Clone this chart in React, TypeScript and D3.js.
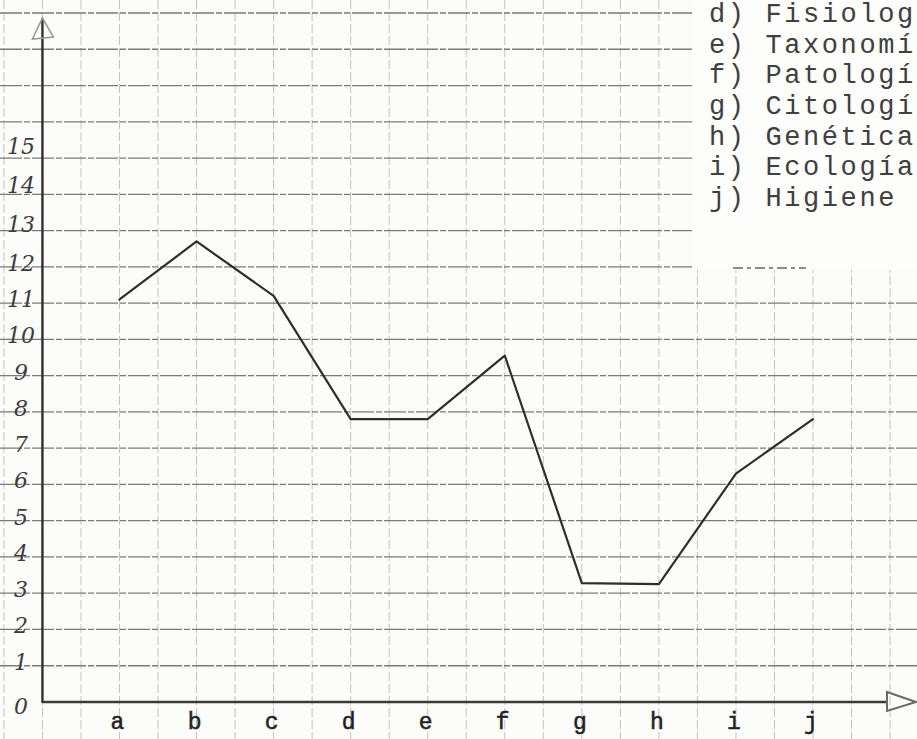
import React from 'react';
import * as d3 from 'd3';

// values
const categories = ['a', 'b', 'c', 'd', 'e', 'f', 'g', 'h', 'i', 'j'];
const values = [11.1, 12.7, 11.2, 7.8, 7.8, 9.55, 3.28, 3.25, 6.3, 7.8];
const yTickLabels = [0, 1, 2, 3, 4, 5, 6, 7, 8, 9, 10, 11, 12, 13, 14, 15];
const legendLines = [
  'd) Fisiolog',
  'e) Taxonomí',
  'f) Patologí',
  'g) Citologí',
  'h) Genética',
  'i) Ecología',
  'j) Higiene',
];

const W = 917;
const H = 739;

export default function App() {
  // category index -> px (axis sits one step left of "a")
  const x = d3.scaleLinear().domain([0, 9]).range([119.5, 813]);
  const y = d3.scaleLinear().domain([0, 19]).range([702, 13]);

  const xAxis = x(-1);
  const y0 = y(0);

  const vGrid = d3.range(-1.5, 10.01, 0.5);
  const hGrid = d3.range(1, 20);

  const line = d3
    .line<number>()
    .x((_, i) => x(i))
    .y((d) => y(d));

  const legendX = 709;
  const legendY0 = 15;
  const legendStep = 30.6;

  return (
    <svg
      width={W}
      height={H}
      style={{ position: 'absolute', left: 0, top: 0, background: '#fcfcfa' }}
    >
      {/* graph paper */}
      {vGrid.map((g) => (
        <line
          key={'v' + g}
          x1={x(g)}
          x2={x(g)}
          y1={0}
          y2={H}
          stroke="#c2c2bf"
          strokeWidth={1}
          strokeDasharray="9 3"
        />
      ))}
      {hGrid.map((g) => (
        <line
          key={'h' + g}
          x1={0}
          x2={W}
          y1={y(g)}
          y2={y(g)}
          stroke="#7a7a78"
          strokeWidth={1.3}
          strokeDasharray="22 2 6 2"
        />
      ))}

      {/* pasted legend slip */}
      <rect x={692} y={0} width={W - 692} height={270} fill="#fdfdfc" />
      <line
        x1={733}
        x2={806}
        y1={268}
        y2={268}
        stroke="#666"
        strokeWidth={1.5}
        strokeDasharray="10 4 4 4"
      />
      {legendLines.map((t, i) => (
        <text
          key={t}
          x={legendX}
          y={legendY0 + i * legendStep}
          dominantBaseline="middle"
          fontFamily="'Liberation Mono', 'DejaVu Sans Mono', monospace"
          fontSize={27}
          letterSpacing={2.6}
          fill="#404040"
        >
          {t}
        </text>
      ))}

      {/* axes */}
      <line x1={xAxis} x2={xAxis} y1={y0 + 1} y2={18} stroke="#2f2f2f" strokeWidth={2.4} />
      <path
        d={`M${xAxis},18 L${xAxis - 10},39 L${xAxis + 11},37 Z`}
        fill="none"
        stroke="#9a9a9a"
        strokeWidth={1.6}
      />
      <line x1={xAxis} x2={888} y1={y0} y2={y0} stroke="#3a3a3a" strokeWidth={2.6} />
      <path
        d={`M887,${y0 - 10} L916,${y0} L887,${y0 + 9} Z`}
        fill="none"
        stroke="#6a6a6a"
        strokeWidth={2}
      />

      {/* y labels, hand written */}
      {yTickLabels.map((v) => (
        <text
          key={'yl' + v}
          x={21}
          y={v === 0 ? y(v) + 6 : y(v) - (v > 12 ? (v - 11) * 2.5 : 2)}
          textAnchor="middle"
          dominantBaseline="middle"
          fontFamily="'DejaVu Serif', serif"
          fontStyle="italic"
          fontSize={22}
          fill="#3c3c3c"
        >
          {v}
        </text>
      ))}

      {/* x labels */}
      {categories.map((c, i) => (
        <text
          key={'xl' + c}
          x={x(i) - 2}
          y={729}
          textAnchor="middle"
          fontFamily="'Liberation Mono', monospace"
          fontSize={23}
          fill="#222"
          stroke="#222"
          strokeWidth={0.5}
        >
          {c}
        </text>
      ))}

      {/* data */}
      <path
        d={line(values) || ''}
        fill="none"
        stroke="#2e2e2e"
        strokeWidth={2.2}
        strokeLinejoin="round"
        strokeLinecap="round"
      />
    </svg>
  );
}
